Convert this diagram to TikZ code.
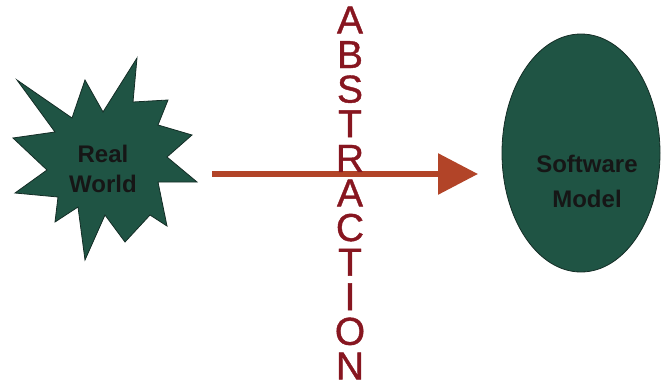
\documentclass[tikz,border=0pt]{standalone}
\usepackage{fontspec}
\setmainfont{Liberation Sans}
\newfontfamily\abstrfont[FakeBold=1]{Liberation Sans}
\usetikzlibrary{shapes.geometric,arrows.meta}
\definecolor{blobgreen}{RGB}{31,84,68}
\definecolor{blobedge}{RGB}{20,45,38}
\definecolor{arrowrust}{RGB}{178,68,40}
\definecolor{maroon}{RGB}{135,22,32}
\definecolor{labelink}{RGB}{22,22,22}
\tikzset{
  blob/.style={fill=blobgreen, draw=blobedge, line width=0.8pt},
  lbl/.style={font=\bfseries\fontsize{24}{30}\selectfont, text=labelink, align=center, inner sep=0pt},
  letter/.style={font=\abstrfont\fontsize{39}{39}\selectfont, text=maroon, inner sep=0pt},
  flow/.style={draw=arrowrust, line width=6pt, -{Triangle[length=40pt,width=40pt]}}
}
\begin{document}
\begin{tikzpicture}[x=1pt,y=-1pt]
\useasboundingbox (0,0) rectangle (662,383);
% Real world star
\draw[blob] (17,80) -- (72,118) -- (85,80) -- (103,112) -- (137,58) -- (133,102)
  -- (168,100) -- (158,125) -- (192,135) -- (167,157) -- (197,182) -- (158,182)
  -- (167,226) -- (150,215) -- (125,242) -- (105,215) -- (85,260) -- (78,207)
  -- (55,222) -- (58,197) -- (15,193) -- (47,170) -- (13,138) -- (55,132) -- cycle;
\node[lbl] (rw) at (103,169) {Real\\World};
% Software model ellipse
\node[blob, ellipse, minimum width=158pt, minimum height=238pt, inner sep=0pt] (sm) at (581,153) {};
\node[lbl, font=\bfseries\fontsize{24}{35}\selectfont] (smtext) at (587,181) {Software\\Model};
% arrow
\coordinate (astart) at (212,174);
\coordinate (aend) at (478,174);
\draw[flow] (astart) -- (aend);
% ABSTRACTION
\foreach \ch [count=\i] in {A,B,S,T,R,A,C,T,I,O,N} {
  \node[letter] (l\i) at (350, {20+34.6*(\i-1)}) {\ch};
}
\end{tikzpicture}
\end{document}
